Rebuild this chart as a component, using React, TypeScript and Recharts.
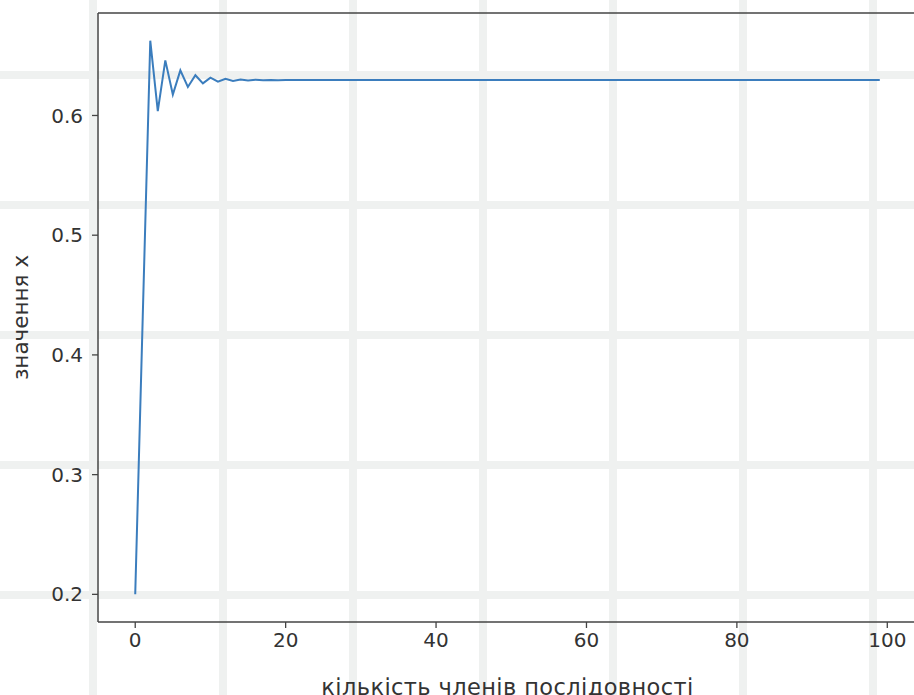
import { LineChart, Line, XAxis, YAxis, ReferenceLine } from 'recharts';

// sequence values
const seqValues = [
    0.2, 0.432, 0.6625, 0.6037, 0.646, 0.6175, 0.6377, 0.6238, 0.6336, 0.6268,
    0.6316, 0.6282, 0.6306, 0.6289, 0.6301, 0.6293, 0.6299, 0.6295, 0.6297, 0.6295,
    0.6297, 0.6296, 0.6296, 0.6296, 0.6296, 0.6296, 0.6296, 0.6296, 0.6296, 0.6296,
    0.6296, 0.6296, 0.6296, 0.6296, 0.6296, 0.6296, 0.6296, 0.6296, 0.6296, 0.6296,
    0.6296, 0.6296, 0.6296, 0.6296, 0.6296, 0.6296, 0.6296, 0.6296, 0.6296, 0.6296,
    0.6296, 0.6296, 0.6296, 0.6296, 0.6296, 0.6296, 0.6296, 0.6296, 0.6296, 0.6296,
    0.6296, 0.6296, 0.6296, 0.6296, 0.6296, 0.6296, 0.6296, 0.6296, 0.6296, 0.6296,
    0.6296, 0.6296, 0.6296, 0.6296, 0.6296, 0.6296, 0.6296, 0.6296, 0.6296, 0.6296,
    0.6296, 0.6296, 0.6296, 0.6296, 0.6296, 0.6296, 0.6296, 0.6296, 0.6296, 0.6296,
    0.6296, 0.6296, 0.6296, 0.6296, 0.6296, 0.6296, 0.6296, 0.6296, 0.6296, 0.6296,
];

const xTicks = [0, 20, 40, 60, 80, 100];
const yTicks = [0.2, 0.3, 0.4, 0.5, 0.6];
const xDomain: [number, number] = [-4.95, 103.95];
const yDomain: [number, number] = [0.1769, 0.6856];

const xLabel = 'кількість членів послідовності';
const yLabel = 'значення x';

const data = seqValues.map((v, i) => ({ n: i, x: v }));

const font = '"DejaVu Sans", sans-serif';
const tickStyle = { fontSize: 20, fill: '#333', fontFamily: font };
const axisLine = { stroke: '#444', strokeWidth: 1.5 };
const tickLine = { stroke: '#444', strokeWidth: 1.3 };

export default function App() {
    return (
        <div
            style={{
                position: 'absolute',
                left: 0,
                top: 0,
                width: 914,
                height: 695,
                overflow: 'hidden',
                backgroundColor: '#fff',
                backgroundImage:
                    'linear-gradient(to right, #eff1f0 8px, transparent 8px), linear-gradient(to bottom, #eff1f0 8px, transparent 8px)',
                backgroundSize: '130px 130px',
                backgroundPosition: '89px 71px',
            }}
        >
            <LineChart
                width={930}
                height={695}
                data={data}
                margin={{ top: 13, right: 13, bottom: 0, left: 0 }}
            >
                <XAxis
                    dataKey="n"
                    type="number"
                    domain={xDomain}
                    ticks={xTicks}
                    allowDataOverflow
                    height={73}
                    tick={tickStyle}
                    tickSize={6}
                    tickMargin={5}
                    axisLine={axisLine}
                    tickLine={tickLine}
                    label={{
                        value: xLabel,
                        position: 'insideBottom',
                        offset: 0,
                        style: { fontSize: 22.5, fill: '#333', fontFamily: font, letterSpacing: 0.4, textAnchor: 'middle' },
                    }}
                />
                <YAxis
                    type="number"
                    domain={yDomain}
                    ticks={yTicks}
                    allowDataOverflow
                    width={98}
                    tick={tickStyle}
                    tickSize={6}
                    tickMargin={9}
                    tickFormatter={(v: number) => v.toFixed(1)}
                    axisLine={axisLine}
                    tickLine={tickLine}
                    label={{
                        value: yLabel,
                        angle: -90,
                        position: 'insideLeft',
                        offset: 20,
                        style: { fontSize: 21.5, fill: '#333', fontFamily: font, textAnchor: 'middle' },
                    }}
                />
                <ReferenceLine y={yDomain[1]} stroke="#444" strokeWidth={1.5} />
                <ReferenceLine x={xDomain[1]} stroke="#444" strokeWidth={1.5} />
                <Line
                    type="linear"
                    dataKey="x"
                    stroke="#3b7dbd"
                    strokeWidth={2}
                    dot={false}
                    isAnimationActive={false}
                />
            </LineChart>
        </div>
    );
}
